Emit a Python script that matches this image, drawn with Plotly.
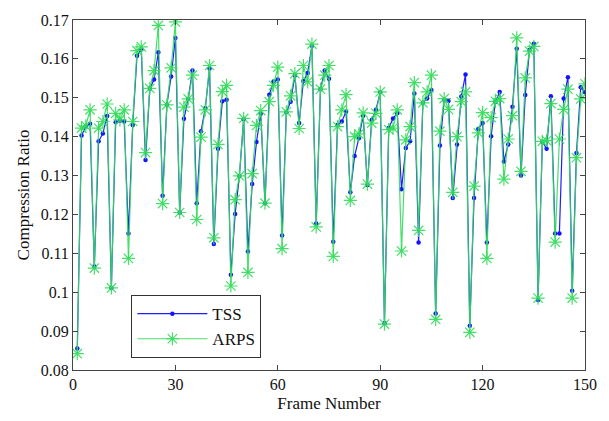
import plotly.graph_objects as go

frames = [1.25, 2.5, 3.75, 5, 6.25, 7.5, 8.75, 10, 11.25, 12.5,
          13.75, 15, 16.25, 17.5, 18.75, 20, 21.25, 22.5, 23.75, 25,
          26.25, 27.5, 28.75, 30, 31.25, 32.5, 33.75, 35, 36.25, 37.5,
          38.75, 40, 41.25, 42.5, 43.75, 45, 46.25, 47.5, 48.75, 50,
          51.25, 52.5, 53.75, 55, 56.25, 57.5, 58.75, 60, 61.25, 62.5,
          63.75, 65, 66.25, 67.5, 68.75, 70, 71.25, 72.5, 73.75, 75,
          76.25, 77.5, 78.75, 80, 81.25, 82.5, 83.75, 85, 86.25, 87.5,
          88.75, 90, 91.25, 92.5, 93.75, 95, 96.25, 97.5, 98.75, 100,
          101.25, 102.5, 103.75, 105, 106.25, 107.5, 108.75, 110, 111.25, 112.5,
          113.75, 115, 116.25, 117.5, 118.75, 120, 121.25, 122.5, 123.75, 125,
          126.25, 127.5, 128.75, 130, 131.25, 132.5, 133.75, 135, 136.25, 137.5,
          138.75, 140, 141.25, 142.5, 143.75, 145, 146.25, 147.5, 148.75, 150]

tss = [0.0855, 0.1403, 0.1426, 0.1433, 0.1066, 0.1388, 0.1408, 0.1453, 0.1011, 0.1437,
       0.1441, 0.1439, 0.1151, 0.1430, 0.1608, 0.1625, 0.1340, 0.1524, 0.1547, 0.1617,
       0.1248, 0.1482, 0.1555, 0.1654, 0.1205, 0.1446, 0.1497, 0.1570, 0.1229, 0.1414,
       0.1473, 0.1575, 0.1124, 0.1369, 0.1491, 0.1495, 0.1045, 0.1201, 0.1299, 0.1445,
       0.1105, 0.1278, 0.1386, 0.1459, 0.1229, 0.1508, 0.1542, 0.1547, 0.1146, 0.1463,
       0.1490, 0.1557, 0.1435, 0.1543, 0.1564, 0.1634, 0.1177, 0.1522, 0.1570, 0.1549,
       0.1130, 0.1430, 0.1439, 0.1464, 0.1257, 0.1350, 0.1396, 0.1454, 0.1276, 0.1443,
       0.1469, 0.1514, 0.0920, 0.1422, 0.1447, 0.1460, 0.1265, 0.1371, 0.1388, 0.1511,
       0.1128, 0.1487, 0.1498, 0.1520, 0.0945, 0.1377, 0.1495, 0.1492, 0.1242, 0.1380,
       0.1503, 0.1560, 0.0914, 0.1242, 0.1420, 0.1435, 0.1128, 0.1401, 0.1490, 0.1515,
       0.1336, 0.1380, 0.1477, 0.1626, 0.1300, 0.1507, 0.1623, 0.1639, 0.0980, 0.1387,
       0.1369, 0.1504, 0.1151, 0.1151, 0.1498, 0.1553, 0.1004, 0.1358, 0.1527, 0.1514]

arps = [0.0842, 0.1422, 0.1428, 0.1469, 0.1062, 0.1422, 0.1439, 0.1484, 0.1011, 0.1460,
        0.1443, 0.1469, 0.1087, 0.1439, 0.1621, 0.1631, 0.1359, 0.1524, 0.1570, 0.1686,
        0.1228, 0.1482, 0.1577, 0.1695, 0.1205, 0.1476, 0.1497, 0.1558, 0.1187, 0.1399,
        0.1469, 0.1583, 0.1140, 0.1380, 0.1516, 0.1532, 0.1016, 0.1238, 0.1299, 0.1447,
        0.1051, 0.1305, 0.1429, 0.1467, 0.1229, 0.1490, 0.1532, 0.1579, 0.1112, 0.1464,
        0.1505, 0.1562, 0.1421, 0.1583, 0.1541, 0.1638, 0.1168, 0.1522, 0.1558, 0.1583,
        0.1092, 0.1426, 0.1469, 0.1508, 0.1236, 0.1400, 0.1407, 0.1461, 0.1278, 0.1435,
        0.1460, 0.1515, 0.0918, 0.1418, 0.1422, 0.1469, 0.1106, 0.1392, 0.1426, 0.1539,
        0.1159, 0.1487, 0.1515, 0.1558, 0.0930, 0.1414, 0.1498, 0.1470, 0.1257, 0.1400,
        0.1490, 0.1515, 0.0897, 0.1273, 0.1410, 0.1462, 0.1087, 0.1449, 0.1491, 0.1498,
        0.1291, 0.1394, 0.1454, 0.1654, 0.1311, 0.1551, 0.1620, 0.1632, 0.0985, 0.1388,
        0.1390, 0.1485, 0.1129, 0.1394, 0.1470, 0.1522, 0.0985, 0.1346, 0.1497, 0.1536]

x_ticks = [0, 30, 60, 90, 120, 150]
y_ticks = [0.08, 0.09, 0.10, 0.11, 0.12, 0.13, 0.14, 0.15, 0.16, 0.17]
y_tick_text = ["0.08", "0.09", "0.1", "0.11", "0.12", "0.13", "0.14", "0.15", "0.16", "0.17"]

FONT = "Liberation Serif"

fig = go.Figure()
fig.add_trace(go.Scatter(
    x=frames, y=tss, name="TSS", mode="lines+markers",
    line=dict(color="rgb(30,30,255)", width=1.2),
    marker=dict(symbol="circle", size=4.5, color="rgb(20,20,255)"),
))
fig.add_trace(go.Scatter(
    x=frames, y=arps, name="ARPS", mode="lines+markers",
    line=dict(color="rgba(50,220,90,0.9)", width=1.2),
    marker=dict(symbol="asterisk-open", size=11,
                line=dict(color="rgb(45,215,85)", width=1.2)),
))

axis_common = dict(
    showline=True, linecolor="#444", linewidth=1, mirror="ticks",
    ticks="inside", ticklen=5, tickcolor="#444",
    showgrid=False, zeroline=False,
    tickfont=dict(family=FONT, size=16, color="#111"),
)

fig.update_xaxes(range=[0, 150], tickvals=x_ticks,
                 title=dict(text="Frame Number", font=dict(family=FONT, size=17, color="#111"), standoff=4),
                 **axis_common)
fig.update_yaxes(range=[0.08, 0.17], tickvals=y_ticks, ticktext=y_tick_text,
                 title=dict(text="Compression Ratio", font=dict(family=FONT, size=17, color="#111"), standoff=6),
                 **axis_common)

fig.update_layout(
    width=609, height=421,
    margin=dict(l=73, r=13, t=16, b=51),
    paper_bgcolor="white", plot_bgcolor="white",
    showlegend=True,
    legend=dict(
        x=0.114, y=0.034, xanchor="left", yanchor="bottom",
        bgcolor="white", bordercolor="#333", borderwidth=1,
        font=dict(family=FONT, size=17, color="#111"),
        itemwidth=70, tracegroupgap=6,
    ),
)

fig.write_html("out.html")
